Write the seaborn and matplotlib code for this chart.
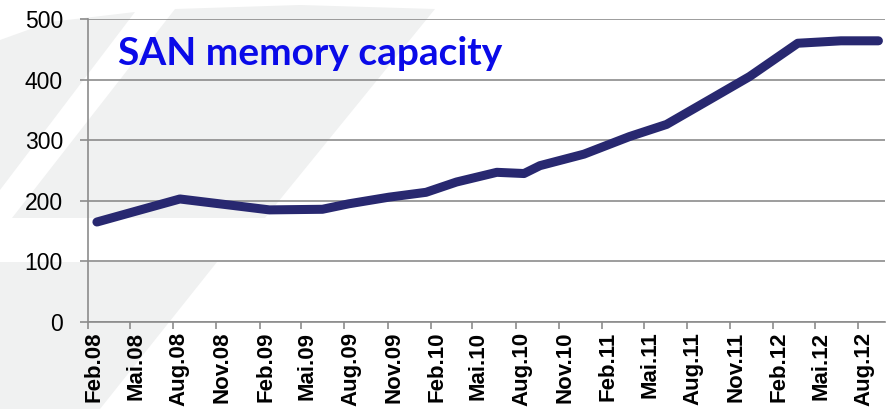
import matplotlib
matplotlib.use("Agg")
import matplotlib.pyplot as plt
import matplotlib.transforms as mtransforms
from matplotlib.patches import Polygon
import pandas as pd
import seaborn as sns

# ---- data ----
dates = ["2008-02-20", "2008-05-09", "2008-08-15", "2009-02-22", "2009-06-15",
         "2009-08-10", "2009-11-04", "2010-01-22", "2010-03-28", "2010-06-22",
         "2010-08-19", "2010-09-22", "2010-12-25", "2011-04-01", "2011-06-19",
         "2011-09-19", "2011-12-13", "2012-03-25", "2012-06-25", "2012-09-13"]
capacity = [165, 182, 203, 185, 186,
            195, 206, 214, 231, 247,
            245, 258, 277, 306, 326,
            367, 405, 460, 464, 464]
tick_dates = ["2008-02-01", "2008-05-01", "2008-08-01", "2008-11-01",
              "2009-02-01", "2009-05-01", "2009-08-01", "2009-11-01",
              "2010-02-01", "2010-05-01", "2010-08-01", "2010-11-01",
              "2011-02-01", "2011-05-01", "2011-08-01", "2011-11-01",
              "2012-02-01", "2012-05-01", "2012-08-01"]
tick_labels = ["Feb.08", "Mai.08", "Aug.08", "Nov.08",
               "Feb.09", "Mai.09", "Aug.09", "Nov.09",
               "Feb.10", "Mai.10", "Aug.10", "Nov.10",
               "Feb.11", "Mai.11", "Aug.11", "Nov.11",
               "Feb.12", "Mai.12", "Aug.12"]
y_ticks = [0, 100, 200, 300, 400, 500]
title = "SAN memory capacity"

df = pd.DataFrame({"date": pd.to_datetime(dates), "capacity": capacity})

sns.set_theme(style="white")
plt.rcParams["font.family"] = ["Liberation Sans", "DejaVu Sans"]

W, H = 893, 409
fig = plt.figure(figsize=(W / 100, H / 100), dpi=100)
fig.patch.set_facecolor("white")

# faint decorative watermark in the background
wm = "#F0F1F1"
def fpoly(pts):
    return Polygon([(x / W, 1 - y / H) for x, y in pts], closed=True,
                   transform=fig.transFigure, facecolor=wm, edgecolor="none", zorder=-10)
fig.patches.extend([
    fpoly([(0, 40), (50, 22), (135, 12), (0, 190)]),
    fpoly([(175, 9), (300, 5), (435, 9), (265, 218), (12, 218)]),
    fpoly([(0, 262), (217, 262), (100, 409), (0, 409)]),
])

ax = fig.add_axes([88 / W, 1 - 322 / H, (885 - 88) / W, (322 - 19) / H])
ax.set_zorder(1)
ax.patch.set_alpha(0)

sns.lineplot(data=df, x="date", y="capacity", ax=ax, color="#282870",
             linewidth=6.5, solid_capstyle="round", solid_joinstyle="round", zorder=3)

ax.set_ylim(0, 500)
ax.set_xlim(pd.Timestamp("2008-02-01"), pd.Timestamp("2012-09-27"))
ax.set_yticks(y_ticks)
ax.set_yticklabels([str(v) for v in y_ticks], fontsize=16.5)
ax.set_xticks(pd.to_datetime(tick_dates))
ax.set_xticklabels(tick_labels, rotation=90, fontweight="bold", fontsize=16)
ax.set_xlabel("")
ax.set_ylabel("")

grid_c = "#8C8C8C"
ax.yaxis.grid(True, color=grid_c, linewidth=1.2, zorder=1)
ax.xaxis.grid(False)
for s in ["top", "right"]:
    ax.spines[s].set_visible(False)
for s in ["left", "bottom"]:
    ax.spines[s].set_color(grid_c)
    ax.spines[s].set_linewidth(1.2)

ax.tick_params(axis="y", which="both", left=True, length=6, width=1.2, color=grid_c,
               pad=12, labelcolor="black")
ax.tick_params(axis="x", which="both", bottom=True, length=5, width=1.2, color=grid_c,
               pad=2, labelcolor="black")

offset = mtransforms.ScaledTranslation(6 / 100, 0, fig.dpi_scale_trans)
for lab in ax.get_xticklabels():
    lab.set_transform(lab.get_transform() + offset)

ax.text(118 / W, 1 - 65 / H, title, transform=fig.transFigure, color="#0A0AE8",
        fontsize=28, fontweight="bold", family=["Lato", "DejaVu Sans"],
        ha="left", va="baseline", zorder=5)

fig.savefig("out.png", dpi=100, facecolor="white")
